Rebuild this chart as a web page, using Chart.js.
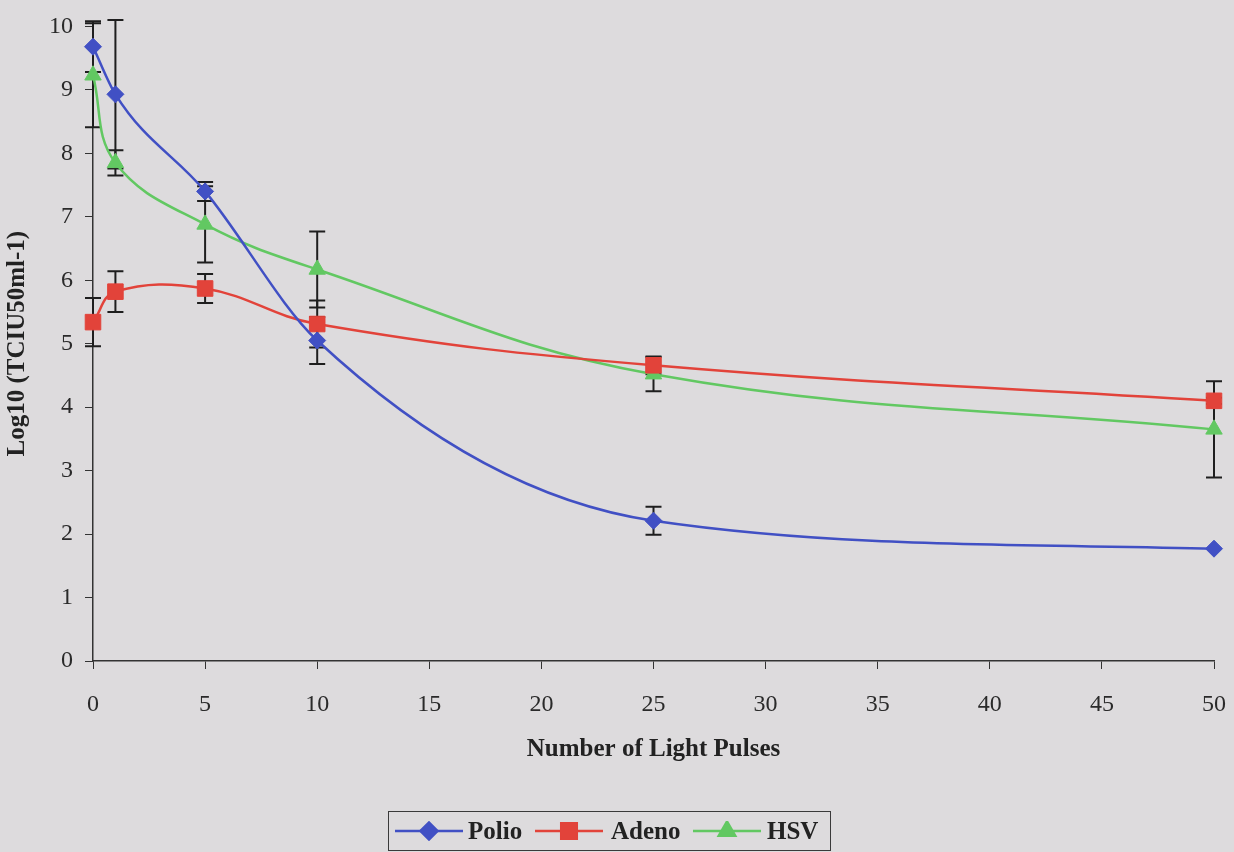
<!DOCTYPE html>
<html><head><meta charset="utf-8">
<script src="https://cdn.jsdelivr.net/npm/chart.js@4.4.1/dist/chart.umd.min.js"></script>
<style>
html,body{margin:0;padding:0;background:#dddbdd;}
#wrap{position:relative;width:1234px;height:852px;overflow:hidden;background:#dddbdd;}
#c{position:absolute;left:0;top:0;}
#legend{position:absolute;left:388px;top:811px;width:443px;height:40px;border:1px solid #3a3a3a;box-sizing:border-box;font:bold 25px "Liberation Serif",serif;color:#222;}
#legend .t{position:absolute;top:0;line-height:38px;}
#legend canvas{position:absolute;top:9px;}
</style></head>
<body><div id="wrap"><canvas id="c" width="1234" height="852"></canvas>
<div id="legend">
<canvas id="lg0" width="68" height="20" style="left:6px"></canvas><span class="t" style="left:79px">Polio</span>
<canvas id="lg1" width="68" height="20" style="left:146px"></canvas><span class="t" style="left:222px">Adeno</span>
<canvas id="lg2" width="68" height="20" style="left:304px"></canvas><span class="t" style="left:378px">HSV</span>
</div></div>
<script>
const xValues = [0, 1, 5, 10, 25, 50];
const seriesNames = ['Polio', 'Adeno', 'HSV'];
const polio = [9.68, 8.93, 7.40, 5.05, 2.21, 1.77];
const adeno = [5.34, 5.82, 5.87, 5.31, 4.66, 4.10];
const hsv   = [9.23, 7.85, 6.88, 6.17, 4.52, 3.65];
const polioErr = [0.40, 1.17, 0.15, 0.37, 0.22, 0.00];
const adenoErr = [0.38, 0.32, 0.23, 0.37, 0.14, 0.05];
const hsvErr   = [0.82, 0.20, 0.60, 0.60, 0.27, 0.76];
const colors = ['#4150c4', '#e2433a', '#62c862'];
const styles = ['rectRot', 'rect', 'triangle'];
const radii = [8.5, 11, 9.5];
const interp = ['monotone', 'default', 'default'];

const values = [polio, adeno, hsv];
const errs = [polioErr, adenoErr, hsvErr];

const serif = '"Liberation Serif", "Times New Roman", serif';

const errorBars = {
  id: 'errorBars',
  beforeDatasetsDraw(chart) {
    const ctx = chart.ctx, xs = chart.scales.x, ys = chart.scales.y;
    ctx.save();
    ctx.strokeStyle = '#1e1e1e';
    ctx.lineWidth = 2;
    chart.data.datasets.forEach((ds) => {
      ds.data.forEach((p, i) => {
        const e = ds.errors[i];
        if (!e) return;
        const px = xs.getPixelForValue(p.x);
        const yt = ys.getPixelForValue(p.y + e);
        const yb = ys.getPixelForValue(p.y - e);
        ctx.beginPath();
        ctx.moveTo(px, yt); ctx.lineTo(px, yb);
        ctx.moveTo(px - 8, yt); ctx.lineTo(px + 8, yt);
        ctx.moveTo(px - 8, yb); ctx.lineTo(px + 8, yb);
        ctx.stroke();
      });
    });
    ctx.restore();
  }
};

const datasets = seriesNames.map((name, k) => ({
  label: name,
  data: xValues.map((x, i) => ({x: x, y: values[k][i]})),
  errors: errs[k],
  borderColor: colors[k],
  backgroundColor: colors[k],
  pointBackgroundColor: colors[k],
  pointBorderColor: colors[k],
  pointStyle: styles[k],
  pointRadius: radii[k],
  pointBorderWidth: 1,
  borderWidth: 2.5,
  tension: 0.4,
  cubicInterpolationMode: interp[k],
  clip: false,
  fill: false
}));

new Chart(document.getElementById('c'), {
  type: 'scatter',
  data: { datasets },
  options: {
    responsive: false,
    animation: false,
    devicePixelRatio: 1,
    showLine: true,
    layout: { padding: { left: 0, right: 20, top: 23, bottom: 0 } },
    plugins: { legend: { display: false }, tooltip: { enabled: false } },
    scales: {
      x: {
        type: 'linear', min: 0, max: 50,
        ticks: { stepSize: 5, color: '#2a2a2a', padding: 21, font: { family: serif, size: 24 } },
        grid: { display: true, drawOnChartArea: false, drawTicks: true, tickLength: 8, color: '#333' },
        border: { color: '#333', width: 1.5 },
        title: { display: true, text: 'Number of Light Pulses', color: '#222', font: { family: serif, size: 25, weight: 'bold' }, padding: { top: 0, bottom: 87 } },
        afterFit(s) { s.height = 191; s.paddingRight = 12; s.paddingLeft = 12; }
      },
      y: {
        type: 'linear', min: 0, max: 10,
        ticks: { stepSize: 1, color: '#2a2a2a', padding: 12, font: { family: serif, size: 24 } },
        grid: { display: true, drawOnChartArea: false, drawTicks: true, tickLength: 8, color: '#333' },
        border: { color: '#333', width: 1.5 },
        title: { display: true, text: 'Log10 (TCIU50ml-1)', color: '#222', font: { family: serif, size: 25, weight: 'bold' }, padding: { top: 3, bottom: 0 } },
        afterFit(s) { s.width = 93; }
      }
    }
  },
  plugins: [errorBars]
});

// legend samples
seriesNames.forEach((n, k) => {
  const cv = document.getElementById('lg' + k);
  const ctx = cv.getContext('2d');
  ctx.strokeStyle = colors[k]; ctx.fillStyle = colors[k]; ctx.lineWidth = 2.5;
  ctx.beginPath(); ctx.moveTo(0, 10); ctx.lineTo(68, 10); ctx.stroke();
  Chart.helpers.drawPoint(ctx, { pointStyle: styles[k], radius: radii[k], borderWidth: 1, rotation: 0 }, 34, 10);
  ctx.fill();
});
</script>
</body></html>
